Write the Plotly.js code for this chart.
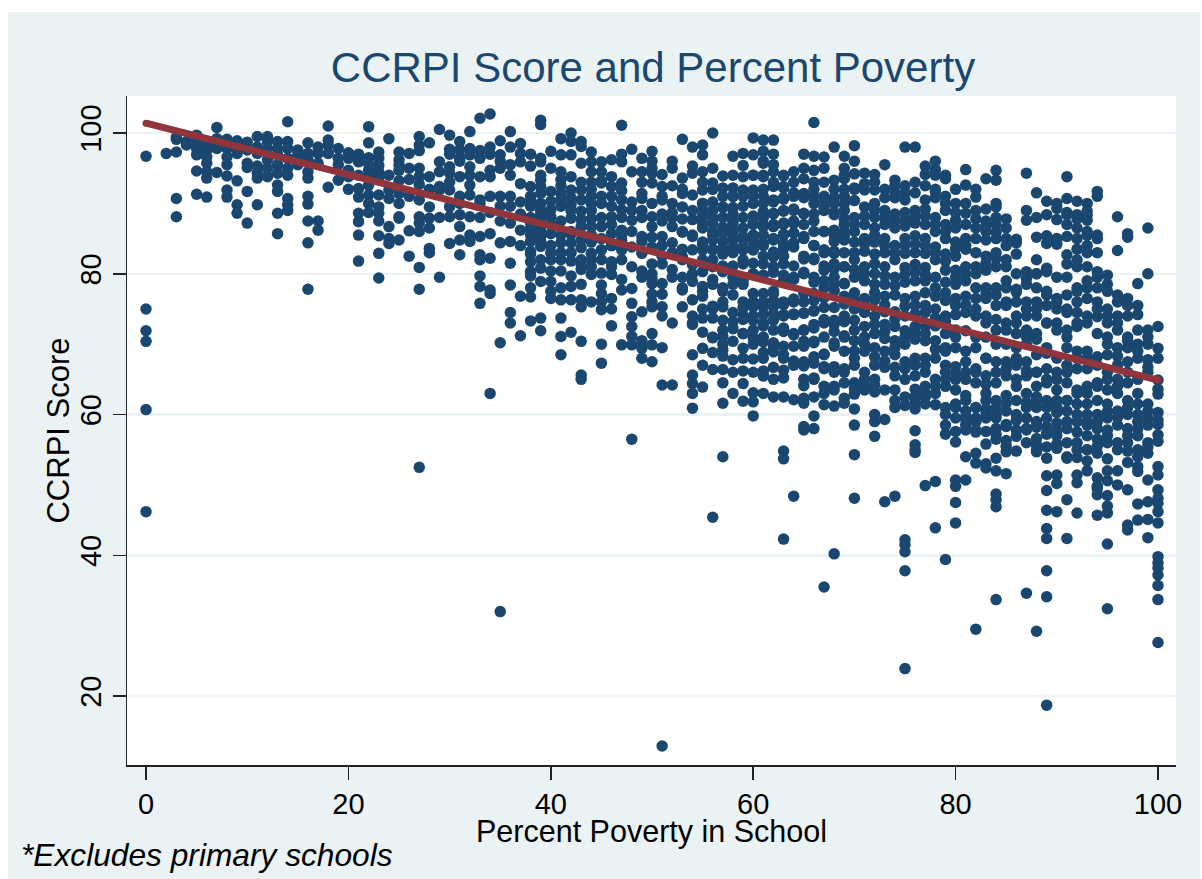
<!DOCTYPE html>
<html><head><meta charset="utf-8">
<script src="https://cdn.plot.ly/plotly-3.0.1.min.js"></script>
<style>html,body{margin:0;padding:0;background:#fff}#c{position:absolute;left:8px;top:12px;width:1192px;height:867px}</style>
</head><body><div id="c"></div>
<script>
// CCRPI scores, one inner list per whole percent of poverty
const scores0to19 = [
[96.7,75,71.9,70.4,60.7,46.2],[],[97.1],[99.1,97.3,90.7,88.1,99.4],[98.3,98.8],
[99.7,99,97.8,96.9,94.6,91.3,98.2],[98.4,96.6,95.7,94.5,93.6,90.9,97.5],[100.8,99.2,97.8,94.4,98.4],[99.1,97.8,96.6,95.5,93.9,91.9,90.9,98.4],[98.9,97.1,93.2,89.8,88.6,98],
[98.7,97.6,95.7,95.1,91.7,87.2],[99.5,98,97.1,95.3,94.3,93.6,89.8],[99.5,98.8,97.8,96.2,95,93.8],[98.8,97.8,96.9,95.5,94.3,92.6,91.7,88.6,85.7],[101.6,98.8,97.8,96.4,95,94,90.7,89.8,89],
[97.6,96.4,95.5,97],[98.6,97.1,96.2,94.5,93.6,91,89.9,87.5,84.4,77.8],[98,97.1,95.7,87.5,86.2],[101,99,98.3,97.1,92.3],[97.8,96.4,95.5,93.3]
];
const scores20to39 = [
[97.2,94.7,93.8,92,96.4],[97,95.9,94,92.1,90.9,88.6,87.4,85.5,81.8],[100.9,98.6,96.5,95.6,94.7,93.8,92.6,91.2,90,88.7],[97.3,96.4,95.4,94.5,93.6,91.2,89.5,88.6,87.5,85.4,82.9,79.4],[99.2,94,91.9,90.7,86.7,85,84.3],
[97.3,96.2,95.5,94.7,93.2,91.4,90,88.1,87.9,84.8],[97.1,95,93.4,86.1,82.5,91],[99.5,98.3,97.5,95,93.8,92.7,90.5,88.1,87.2,86,80.9,77.8,52.5],[98.6,93.8,89.5,87.9,86.5,83.6,83,92],[100.5,95.9,94.5,92.4,91.9,79.5,88],
[99.7,97.7,97,95.2,94.3,93,91.9,88.1,84.3,89.5],[98.8,97.6,96.4,96,93.8,91,90,88.4,86.7,84.8,82.7],[100.2,96.9,95.2,92.6,91.2,88.1,85.5,84.6,97.8,94],[102.1,97.5,96.4,93.8,90.5,90,88,85.3,82.7,82,79.7,78.2,75.8],[102.7,98,97,94.7,93.8,91,88.7,85.7,82.2,77.7,77.2,63],
[98.9,96.9,96,95,91,89.6,87.5,84.4,70.2,32],[100.2,98,95.5,94,91,89.6,87.2,84.6,81.5,78.4,74.5,73],[98.5,97.1,95.9,92.8,90.2,88.5,86.2,84,76.8,71.2],[95.3,92.4,91,89.6,88,86.4,84.6,83.2,81.7,80.3,79.7,76.7,73.3,97],[101.8,101.2,96.4,95.9,93.3,92.4,91.4,90,88.4,86.7,85.3,83.9,82,78.9,73.7,71.9]
];
const scores40to59 = [
[95,91.7,89.1,88.1,85.7,82,78.9,76.5,84,97.4],[99.2,96.9,93.4,91.4,89.6,87.5,84.4,82,80.4,76.3,73.7,71.1,68.5,94.5],[100,98.8,96.9,93.8,91.9,89.8,87.9,84.4,83,79.7,76.3,71.7,86],[98.8,98.1,95.7,91.9,90.5,88.9,86.7,84.8,82,80.6,76.3,75.3,70.4,65.6,65],[97.3,95.9,94.5,93,89,86.7,82.9,81,79.9,76,91,84.5],
[95.9,94.5,92.9,88,86.7,83.4,80.1,78.4,76,74.9,70,67.3,90],[96.2,93.8,92.4,89.6,88.1,85.7,81.7,79.9,76.5,72.6,84],[101.1,95.9,92.9,90.5,89.1,86.2,84.8,83.4,77.7,69.9,97],[97.7,94.5,90.2,87.6,83.8,77.9,73.9,72.5,71.1,69.9,56.5],[96.4,94.5,91.4,89,85.3,82.9,80.4,74.6,70.5,69.4,68,88],
[97.4,96,94.3,88.1,86.7,83.8,81.4,80,78.6,77.1,75.3,71.5,69.9,67.5],[94.1,92.4,90.5,85.3,81.4,78.6,77.1,75.3,69.5,64.2,87.5],[96,95,90,86.7,84.4,80.6,64.2,92.5,88],[99.1,93.6,91.4,87.8,85.9,82.4,79.5,77.7,75.3,83.5,89.5],[98,94.3,91.2,87.7,85.3,83.4,81.3,78.9,76.3,74,72.8,68.5,65.6,64.4,63,60.9],
[98.3,96.9,94.5,91.9,90,87.2,84.5,83.4,82,78.2,76.8,73.7,71.7,69.4,67,63.9,89],[100,95,92.9,90.2,86,84.8,83.4,82,79.2,75.4,73.7,70.9,68.8,66.4,45.4,88],[93.9,92.2,89.4,86.6,84.6,82.8,81.1,77.5,75.3,73.4,71.1,69.2,68.3,66.4,64.5,61.6,54],[96.7,92.2,89.4,87.5,86.2,85,83,81.1,78.5,77,73.2,70.4,67.8,63,91],[97.1,95.4,93.8,91.9,89.6,85.3,83.9,81.4,78.5,76,74.1,71.5,69.4,68,64.4,61.9]
];
const scores60to79 = [
[99.3,96.9,91.9,90,87.2,85,83.4,81.5,80,77.2,75.3,73.4,70.9,67.9,63.1,61.8,59.8,94],[99,97.4,95.7,93.8,90,88,86.7,84,81.4,77.2,75.3,72.6,71,68.8,66.2,65.5,63,92],[99,94.5,92.4,90.2,88.6,86.7,85,82.4,81,77.2,75.3,73.4,69.6,68.9,65,97],[93.9,92.2,90.6,88.9,87.2,85.6,83.6,81.4,79,75.6,74.2,71.8,69.7,68,65.2,54.8,53.7,42.3,62.5],[89,87.2,85.8,84.4,81.1,79.2,76.4,74.2,71.3,67.6,62.1,48.4,91.5,94.5],
[95,91.4,88.6,85,82.1,80,77.2,74.4,72,69.7,66.9,64.1,62.3,61.6,58.3,57.8,97],[101.5,96.7,94.7,93,91,87.5,84,82,79.5,77.2,74.7,72.8,70.4,67.3,65,62.5,59.8,58],[96.6,95,93,91,89,86,83.4,81.1,79,76.6,73.5,71,68.5,66.8,64,61.4,35.5],[98,93.3,90.8,88.7,86.2,84.6,82.9,81.4,79.5,77.6,75.2,72.8,70.2,66.8,63.5,61.2,40.2],[96.7,95,93.5,91,89,87,85.3,83,81,78.6,76.8,74,71,66.5,64.5,62.3,61.6],
[98.2,94.2,92.2,90.4,88,86,84.5,82,79.5,77.3,75,73.4,70.5,69,67,64.5,62.9,60.8,58.5,54.3,48.1],[94.3,91.9,89.5,87,85,83.2,81,79,76.5,74.5,72.5,70,69,66,65,63.5],[94.1,91.9,90,88,86.5,84.5,82.8,80,78.5,76.3,74,71.5,69.5,67,65,63.2,60,59,56.9],[95.5,90.8,89,87,85,83,81,78.5,76.8,74.6,72.8,70.8,69,66.7,63.5,59.3,47.6],[93.3,92.5,90.8,88.5,86.5,84,82,79.5,77,74.6,72.5,70.5,68.5,66.7,63.5,62,61,48.4],
[98,92.5,91.5,88.7,86.8,85,82.9,80.9,78.8,76.5,74,71.9,70,67.5,65,62.5,61.3,42.2,41.5,40.5,37.8,23.9],[98,91.5,89,87.2,85.4,83,81.3,79,76.8,74.3,72.5,70.7,68,65.5,63.6,61.8,60.8,57.7,55.7,55,54.6],[95.3,94.1,90.5,89.2,87,85,82.9,80.9,79,77.3,74.5,72.5,70.5,68,66,64,62.5,61.5,49.9],[96,94.8,94,92,90.8,88,86,83.8,82,79.5,76.8,75,72.6,70.5,68,65,63,61.4,50.5,43.9],[93.5,91,89,87,85,82.8,80.5,78.8,76.2,74,71.5,69.5,67,66,64,61,60,58.5,57.2,39.4]
];
const scores80to100 = [
[90,88.7,86.5,84.5,82.5,80.5,78.5,76.5,74.2,72,69.5,66.8,65,63.5,61.5,59.5,57.6,56.1,50.7,49.8,47.5,44.6],[94.8,92.6,90,87,85,83.5,81,79,76.8,74.5,69,67.5,65,62,60.5,59.7,58.5,57.8,54,50.7],[90.9,87.8,86.5,83,81,78,76.5,74,69.5,66.5,64.5,61,59.5,57.5,59,54.5,53.1,29.5],[93.5,87.5,86,84.8,82.5,80.5,78,76.5,74,71,68,65.5,63,62,60.3,59.5,55.8,53,52.4,57.6],[94.7,93.3,89.5,88,87,85,83,81,78,75.5,73.5,70,67.5,64.5,62,60,59.5,58,57.2,53.8,52,48.7,47.9,46.9,33.7],
[87.8,85,84,81,79,76,75.5,73,70,67.5,65.5,62.7,60.5,58.3,56.3,54.7,51.6],[84.9,84.4,80,77.8,76,74,71.5,69.5,67,65,62,60,57.8,56.9],[94.3,89,80.3,78.5,76,74,72,70,67.5,65.5,63,61.7,59.5,57.8,34.6],[91.5,85.2,82,80,78,76,74,71.5,68.5,66,64,62.5,61,59,58.2,56.6,55.7,54.7,29.2],[90.3,85.4,84.3,80.3,77.5,75.5,73,68.7,66.5,64.5,62,61.2,59.5,58.2,57.3,55.4,53.8,51.3,49.2,46.4,43.8,42.4,37.8,34.1,18.7],
[90,89.3,85,84.2,79.5,76.5,75,73,68,66,63.5,62,60.3,58.8,57,55.2,51.4,50.2,46.2,61],[93.8,88.7,87,82.7,81.4,79.5,77,74.5,69.5,67,64.5,62,60.5,59,56,54,47.9,42.4,72],[90.3,88.4,86.5,83.5,81,78,76,72.5,69,66.5,63.5,61.5,60,57.5,56,53.9,51.4,50.3,46,74.5],[90,88.9,87.6,85.5,84,81,79,76.5,74,69,66.5,64,61.5,60,58.5,57,55,52],[91.7,91,85.5,79.5,78,76,73.9,71.5,67,64.5,62,60,58,56.5,54.5,51,49.8,48.6,45.7],
[79.8,77.5,75,73,71,68.5,66,63.5,61.5,59.5,57.8,56,53.7,50.6,48.5,47,46,41.6,32.4],[88.1,83.3,76,74,72,69.5,67,65,63,60.5,58.5,56,52,50],[85.7,85.2,75.5,74,71,69.5,67.5,64.5,62,60,58,56,53.2,49.3,44.3,43.6],[78.6,75.5,72,70,68,65,61.5,60,58,57,55,52.6,51.9,47.3,45],[86.5,80,72,70,67.8,66,61.5,59.5,58.5,56,54.5,50.7,47.6,45.1,42.5],
[72.5,69.4,68,64.9,63.6,62.9,60.3,59.2,58.6,57.1,56.2,52.6,51.4,49.3,48.1,47.4,46.2,44.6,39.8,38.9,38.2,37.2,35.7,33.7,27.6]
];
// Further readings from the tightly packed stacks, starting at 38 percent poverty
const denseStart = 38;
const denseStacks38to69 = [
[90.5,87.2,85.5,82.8,78],[94,89,87.5,85.9,84.6,80.8],[90.3,87,83,80.4,77.5],[92.5,90.5,85.5,83,78],[90.8,89,85.6,81.8,78.2],[93,87.7,83.7,81.3,78.5],[92,90,87.8,85.5,82],
[93.2,91,85,82,77.2],[91,87,84,81,75],[91.8,88,85.5,82,79.2],[89,86,81,75.8],[93,90.7,84.6,79.5],[95,92.9,90,85.2,79.3,76],[91,88.5,84,82.5,74],[88.7,83,79.5,73],[92,86,82,78],[95.3,89,85.5,80,73],
[93,90,86.5,84.2,80.3,77.5,75,88.2],[92,89,85.5,81,78.5,75,71,83.5,87.2],[91,88,85.7,83.6,80.3,76,72,70,89.5,78],[94,91,88.5,86,83.8,79.5,74.5,72.2,66,84.8,87.2],[91,88,85,82,79,75.2,71.5,66.2,86.5,83.4,73.5],[94,91,88.2,85.5,83.4,80,76,72,70,66,87,84.5,74],
[96,94,91,88.8,84.3,82.5,79.8,76,74.2,70.3,68,65.5,87,85.5,73],[95.5,93,90.5,88.5,84.8,83.1,80.2,76.2,74.3,72,70.2,66.7,62.5,87,77.5],[94,92.4,90.8,89,87,84.3,82.5,79.8,76,74,72.3,68.5,66.3,85.5],[93,91,89.2,85.8,83.8,79.5,76,74.3,71.5,69.7,67,87.5],[93.5,90.8,88.5,85.3,82.5,80.2,76,74.4,72,70.4,67.5,65,87],[92,90,88.5,86,84,82.2,78.8,76.2,74.8,72.3,70.2,68.2,65.2],
[90.5,89.5,86,83,80.5,78,75.2,73,68.6,66.5,63],[92,90,88.4,85.5,83.2,80.7,78.5,73.4,71.8,69.7,66,64],[94,92,90,87.8,86,84.8,81,78.6,75.7,73.2,71.2,69,66]
];
const denseStacks70to99 = [
[96,92,87,83,80.6,76.2,72,68,63.7],[92.8,88.2,84.2,80,75.5,71,64.2],[93,89,85.5,81.4,77.3,72.8,68.2,64.2],[92,88,84,79.7,75.6,71.8,67.6],[91.5,87.5,83,78.3,73.6,69.5,65.5],
[90.5,87.7,84,79.9,75.4,71,66.5],[93,88,84.2,80.2,75.5,71.5,67,62.6],[92.5,88.2,84,79.9,75.5,71.5,67,63],[91.7,87,83,78,73.7,69.3,64],[94,90,86,81.8,77.3,73.2,69,65],
[92,87.6,83.6,79.5,75.5,71,65.8,61],[88.6,84,80,75.6,71.9,66,62.7,59.3],[92,89,85,80,75,71,66,61,57.8],[89.2,86.8,81.5,77.2,73,68,64.3,60.8],[90,85.9,82.2,77,72,66,61,56.5],
[86.5,82,78,72,66.5,61.6,58.6,55.5],[82.8,77.4,73,68,64,59.2,54.8],[87.6,79.3,75,71,66.2,61,58,56],[88,80,75,70.7,66,62,58.4,55],[88.4,80.8,77,73,69.5,65,61,57.2],
[87.7,84.8,76,72,65,61,57.7,55.8],[90.7,88.4,85.3,75,71,66,62,58,53.8],[87.8,85,82,77.5,73,68,63,59,55],[88.3,86,83,78,73,68,63,59,55,53.4],[85,83,80.3,75,68.2,64,59,55.5,49.5],
[78.5,74,70,65,60.4,57,52],[77,73,68.3,64,59.6,55],[76.5,70.5,66,61,57,54.8],[74.2,69,63,59,54],[71,66.7,60.5,55.4]
];
const extraPoverty = [51];
const extraScores = [12.9];
const fitPoverty = [0,100];
const fitScores = [101.4,64.9];
const xTicks = [0,20,40,60,80,100];
const yTicks = [20,40,60,80,100];
const titleText = 'CCRPI Score and Percent Poverty';
const xTitle = 'Percent Poverty in School';
const yTitle = 'CCRPI Score';
const noteText = '*Excludes primary schools';

const allColumns = [...scores0to19,...scores20to39,...scores40to59,...scores60to79,...scores80to100];
const px=[],py=[];
allColumns.forEach((col,i)=>col.forEach(v=>{px.push(i);py.push(v);}));
[...denseStacks38to69,...denseStacks70to99].forEach((col,i)=>col.forEach(v=>{px.push(denseStart+i);py.push(v);}));
extraPoverty.forEach((v,i)=>{px.push(v);py.push(extraScores[i]);});

const bg='#EAF2F3', navy='#1a476f', maroon='#90353b';
const W=1192,H=867;
Plotly.newPlot('c',[
 {type:'scatter',mode:'markers',x:px,y:py,marker:{color:navy,size:11.5,line:{width:0}},hoverinfo:'skip'},
 {type:'scatter',mode:'lines+markers',x:fitPoverty,y:fitScores,line:{color:maroon,width:7},marker:{color:maroon,size:7},hoverinfo:'skip'}
],{
 width:W,height:H,showlegend:false,paper_bgcolor:bg,plot_bgcolor:'#fff',
 margin:{l:119,r:24,t:84,b:114,autoexpand:false},
 font:{family:'"Liberation Sans",Arial,sans-serif',color:'#000'},
 title:{text:titleText,font:{size:42,color:navy},x:(653-8)/W,xanchor:'center',xref:'container',y:1-(67-12)/H,yanchor:'middle',yref:'container'},
 xaxis:{range:[-1.88,101.78],tickmode:'array',tickvals:xTicks,ticks:'outside',ticklen:13,tickwidth:1.5,tickcolor:'#222',showline:true,linecolor:'#222',linewidth:1.5,showgrid:false,zeroline:false,tickfont:{size:29},
   title:{text:xTitle,font:{size:30.5},standoff:0}},
 yaxis:{range:[10.2,105.26],tickmode:'array',tickvals:yTicks,ticks:'outside',ticklen:13,tickwidth:1.5,tickcolor:'#222',showline:true,linecolor:'#222',linewidth:1.5,showgrid:true,gridcolor:bg,gridwidth:2.5,zeroline:false,tickangle:-90,tickfont:{size:29},
   title:{text:yTitle,font:{size:31},standoff:0}},
 annotations:[{text:noteText,xref:'paper',yref:'paper',x:(19-8-119)/(W-143),xanchor:'left',y:-(855-765)/(H-198),yanchor:'middle',showarrow:false,font:{size:31.7,color:'#000'}}]
},{displayModeBar:false,staticPlot:true}).then(()=>{
 document.querySelector('.annotation-text').style.fontStyle='italic';
 const nudge=(sel,dx,dy)=>{const el=document.querySelector(sel);if(el)el.setAttribute('transform','translate('+dx+','+dy+') '+(el.getAttribute('transform')||''));};
 nudge('.xtitle',0,-6);
 nudge('.ytitle',4,0);
});
</script></body></html>
